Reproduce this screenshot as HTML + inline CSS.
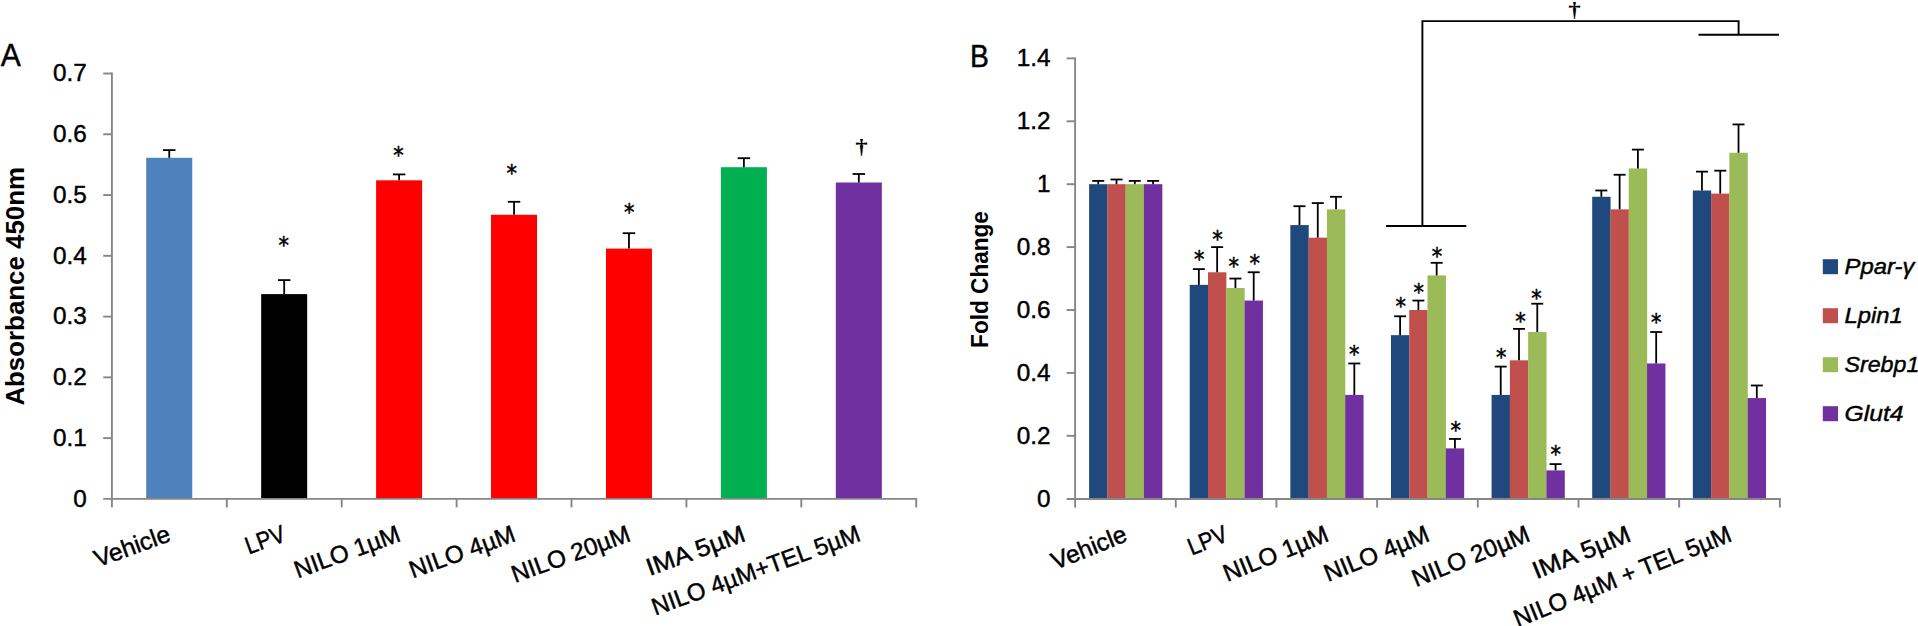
<!DOCTYPE html>
<html lang="en"><head><meta charset="utf-8"><title>Figure</title>
<style>
html,body{margin:0;padding:0;background:#fff;overflow:hidden}
svg{display:block}
text{font-family:"Liberation Sans", sans-serif;fill:#000;stroke:#000;stroke-width:0.45px}
text.b{stroke-width:0}
text.a{font-family:"DejaVu Sans","Liberation Sans",sans-serif;stroke:#000;stroke-width:0.5px}
text.d{font-family:"Liberation Serif","DejaVu Serif",serif;font-weight:bold;stroke-width:0}
</style></head>
<body>
<svg width="1918" height="626" viewBox="0 0 1918 626">
<rect x="0" y="0" width="1918" height="626" fill="#ffffff"/>
<rect x="146.25" y="157.80" width="46.00" height="340.80" fill="#4F81BD"/>
<line x1="169.25" y1="157.80" x2="169.25" y2="150.10" stroke="#000" stroke-width="1.8"/>
<line x1="163.00" y1="150.10" x2="175.50" y2="150.10" stroke="#000" stroke-width="1.8"/>
<rect x="261.18" y="294.10" width="46.00" height="204.50" fill="#000000"/>
<line x1="284.18" y1="294.10" x2="284.18" y2="280.10" stroke="#000" stroke-width="1.8"/>
<line x1="277.93" y1="280.10" x2="290.43" y2="280.10" stroke="#000" stroke-width="1.8"/>
<rect x="376.11" y="180.30" width="46.00" height="318.30" fill="#FF0000"/>
<line x1="399.11" y1="180.30" x2="399.11" y2="174.40" stroke="#000" stroke-width="1.8"/>
<line x1="392.86" y1="174.40" x2="405.36" y2="174.40" stroke="#000" stroke-width="1.8"/>
<rect x="491.04" y="214.80" width="46.00" height="283.80" fill="#FF0000"/>
<line x1="514.04" y1="214.80" x2="514.04" y2="201.80" stroke="#000" stroke-width="1.8"/>
<line x1="507.79" y1="201.80" x2="520.29" y2="201.80" stroke="#000" stroke-width="1.8"/>
<rect x="605.97" y="248.60" width="46.00" height="250.00" fill="#FF0000"/>
<line x1="628.97" y1="248.60" x2="628.97" y2="233.20" stroke="#000" stroke-width="1.8"/>
<line x1="622.72" y1="233.20" x2="635.22" y2="233.20" stroke="#000" stroke-width="1.8"/>
<rect x="720.90" y="167.20" width="46.00" height="331.40" fill="#00B050"/>
<line x1="743.90" y1="167.20" x2="743.90" y2="158.20" stroke="#000" stroke-width="1.8"/>
<line x1="737.65" y1="158.20" x2="750.15" y2="158.20" stroke="#000" stroke-width="1.8"/>
<rect x="835.83" y="182.50" width="46.00" height="316.10" fill="#7030A0"/>
<line x1="858.83" y1="182.50" x2="858.83" y2="174.00" stroke="#000" stroke-width="1.8"/>
<line x1="852.58" y1="174.00" x2="865.08" y2="174.00" stroke="#000" stroke-width="1.8"/>
<line x1="111.90" y1="72.61" x2="111.90" y2="499.80" stroke="#868686" stroke-width="1.9"/>
<line x1="103.20" y1="498.90" x2="917.10" y2="498.90" stroke="#868686" stroke-width="1.9"/>
<text x="86.70" y="506.80" font-size="24.43" text-anchor="end" textLength="13.52" lengthAdjust="spacingAndGlyphs">0</text>
<line x1="103.20" y1="438.13" x2="111.90" y2="438.13" stroke="#868686" stroke-width="1.9"/>
<text x="86.70" y="446.03" font-size="24.43" text-anchor="end" textLength="33.75" lengthAdjust="spacingAndGlyphs">0.1</text>
<line x1="103.20" y1="377.36" x2="111.90" y2="377.36" stroke="#868686" stroke-width="1.9"/>
<text x="86.70" y="385.26" font-size="24.43" text-anchor="end" textLength="33.75" lengthAdjust="spacingAndGlyphs">0.2</text>
<line x1="103.20" y1="316.59" x2="111.90" y2="316.59" stroke="#868686" stroke-width="1.9"/>
<text x="86.70" y="324.49" font-size="24.43" text-anchor="end" textLength="33.75" lengthAdjust="spacingAndGlyphs">0.3</text>
<line x1="103.20" y1="255.82" x2="111.90" y2="255.82" stroke="#868686" stroke-width="1.9"/>
<text x="86.70" y="263.72" font-size="24.43" text-anchor="end" textLength="33.75" lengthAdjust="spacingAndGlyphs">0.4</text>
<line x1="103.20" y1="195.05" x2="111.90" y2="195.05" stroke="#868686" stroke-width="1.9"/>
<text x="86.70" y="202.95" font-size="24.43" text-anchor="end" textLength="33.75" lengthAdjust="spacingAndGlyphs">0.5</text>
<line x1="103.20" y1="134.28" x2="111.90" y2="134.28" stroke="#868686" stroke-width="1.9"/>
<text x="86.70" y="142.18" font-size="24.43" text-anchor="end" textLength="33.75" lengthAdjust="spacingAndGlyphs">0.6</text>
<line x1="103.20" y1="73.51" x2="111.90" y2="73.51" stroke="#868686" stroke-width="1.9"/>
<text x="86.70" y="81.41" font-size="24.43" text-anchor="end" textLength="33.75" lengthAdjust="spacingAndGlyphs">0.7</text>
<line x1="111.90" y1="498.90" x2="111.90" y2="507.40" stroke="#868686" stroke-width="1.9"/>
<line x1="226.80" y1="498.90" x2="226.80" y2="507.40" stroke="#868686" stroke-width="1.9"/>
<line x1="341.70" y1="498.90" x2="341.70" y2="507.40" stroke="#868686" stroke-width="1.9"/>
<line x1="456.60" y1="498.90" x2="456.60" y2="507.40" stroke="#868686" stroke-width="1.9"/>
<line x1="571.50" y1="498.90" x2="571.50" y2="507.40" stroke="#868686" stroke-width="1.9"/>
<line x1="686.40" y1="498.90" x2="686.40" y2="507.40" stroke="#868686" stroke-width="1.9"/>
<line x1="801.30" y1="498.90" x2="801.30" y2="507.40" stroke="#868686" stroke-width="1.9"/>
<line x1="916.20" y1="498.90" x2="916.20" y2="507.40" stroke="#868686" stroke-width="1.9"/>
<text x="0.80" y="66.20" font-size="31.76" textLength="20.06" lengthAdjust="spacingAndGlyphs">A</text>
<text x="0" y="0" transform="translate(24.10,405.60) rotate(-90)" font-size="26.32" class="b" font-weight="bold" textLength="238.58" lengthAdjust="spacingAndGlyphs">Absorbance 450nm</text>
<text x="0" y="0" transform="translate(172.00,540.50) rotate(-20)" font-size="24.43" text-anchor="end" textLength="79.03" lengthAdjust="spacingAndGlyphs">Vehicle</text>
<text x="0" y="0" transform="translate(287.00,540.50) rotate(-20)" font-size="24.43" text-anchor="end" textLength="40.59" lengthAdjust="spacingAndGlyphs">LPV</text>
<text x="0" y="0" transform="translate(402.00,540.50) rotate(-20)" font-size="24.43" text-anchor="end" textLength="110.84" lengthAdjust="spacingAndGlyphs">NILO 1µM</text>
<text x="0" y="0" transform="translate(517.00,540.50) rotate(-20)" font-size="24.43" text-anchor="end" textLength="110.84" lengthAdjust="spacingAndGlyphs">NILO 4µM</text>
<text x="0" y="0" transform="translate(632.00,540.50) rotate(-20)" font-size="24.43" text-anchor="end" textLength="124.56" lengthAdjust="spacingAndGlyphs">NILO 20µM</text>
<text x="0" y="0" transform="translate(747.00,540.50) rotate(-20)" font-size="24.43" text-anchor="end" textLength="103.47" lengthAdjust="spacingAndGlyphs">IMA 5µM</text>
<text x="0" y="0" transform="translate(862.00,540.50) rotate(-20)" font-size="24.43" text-anchor="end" textLength="219.95" lengthAdjust="spacingAndGlyphs">NILO 4µM+TEL 5µM</text>
<text class="a" transform="translate(283.70,253.43) scale(0.94,1)" font-size="22.2" text-anchor="middle">*</text>
<text class="a" transform="translate(398.50,163.43) scale(0.94,1)" font-size="22.2" text-anchor="middle">*</text>
<text class="a" transform="translate(511.60,181.33) scale(0.94,1)" font-size="22.2" text-anchor="middle">*</text>
<text class="a" transform="translate(629.20,219.63) scale(0.94,1)" font-size="22.2" text-anchor="middle">*</text>
<text class="d" transform="translate(861.60,153.53) scale(1.21,1)" font-size="20.60" text-anchor="middle">†</text>
<rect x="1089.10" y="184.20" width="18.38" height="314.50" fill="#1F497D"/>
<rect x="1107.38" y="184.20" width="18.38" height="314.50" fill="#C0504D"/>
<rect x="1125.66" y="184.20" width="18.38" height="314.50" fill="#9BBB59"/>
<rect x="1143.94" y="184.20" width="18.38" height="314.50" fill="#7030A0"/>
<line x1="1098.24" y1="184.20" x2="1098.24" y2="180.90" stroke="#000" stroke-width="1.8"/>
<line x1="1092.24" y1="180.90" x2="1104.24" y2="180.90" stroke="#000" stroke-width="1.8"/>
<line x1="1116.52" y1="184.20" x2="1116.52" y2="179.48" stroke="#000" stroke-width="1.8"/>
<line x1="1110.52" y1="179.48" x2="1122.52" y2="179.48" stroke="#000" stroke-width="1.8"/>
<line x1="1134.80" y1="184.20" x2="1134.80" y2="180.90" stroke="#000" stroke-width="1.8"/>
<line x1="1128.80" y1="180.90" x2="1140.80" y2="180.90" stroke="#000" stroke-width="1.8"/>
<line x1="1153.08" y1="184.20" x2="1153.08" y2="180.90" stroke="#000" stroke-width="1.8"/>
<line x1="1147.08" y1="180.90" x2="1159.08" y2="180.90" stroke="#000" stroke-width="1.8"/>
<rect x="1189.72" y="284.84" width="18.38" height="213.86" fill="#1F497D"/>
<rect x="1208.00" y="272.26" width="18.38" height="226.44" fill="#C0504D"/>
<rect x="1226.28" y="287.99" width="18.38" height="210.71" fill="#9BBB59"/>
<rect x="1244.56" y="300.56" width="18.38" height="198.13" fill="#7030A0"/>
<line x1="1198.86" y1="284.84" x2="1198.86" y2="269.12" stroke="#000" stroke-width="1.8"/>
<line x1="1192.86" y1="269.12" x2="1204.86" y2="269.12" stroke="#000" stroke-width="1.8"/>
<line x1="1217.14" y1="272.26" x2="1217.14" y2="247.10" stroke="#000" stroke-width="1.8"/>
<line x1="1211.14" y1="247.10" x2="1223.14" y2="247.10" stroke="#000" stroke-width="1.8"/>
<line x1="1235.42" y1="287.99" x2="1235.42" y2="278.55" stroke="#000" stroke-width="1.8"/>
<line x1="1229.42" y1="278.55" x2="1241.42" y2="278.55" stroke="#000" stroke-width="1.8"/>
<line x1="1253.70" y1="300.56" x2="1253.70" y2="272.26" stroke="#000" stroke-width="1.8"/>
<line x1="1247.70" y1="272.26" x2="1259.70" y2="272.26" stroke="#000" stroke-width="1.8"/>
<rect x="1290.34" y="225.08" width="18.38" height="273.62" fill="#1F497D"/>
<rect x="1308.62" y="237.67" width="18.38" height="261.03" fill="#C0504D"/>
<rect x="1326.90" y="209.36" width="18.38" height="289.34" fill="#9BBB59"/>
<rect x="1345.18" y="394.91" width="18.38" height="103.79" fill="#7030A0"/>
<line x1="1299.48" y1="225.08" x2="1299.48" y2="206.21" stroke="#000" stroke-width="1.8"/>
<line x1="1293.48" y1="206.21" x2="1305.48" y2="206.21" stroke="#000" stroke-width="1.8"/>
<line x1="1317.76" y1="237.67" x2="1317.76" y2="203.07" stroke="#000" stroke-width="1.8"/>
<line x1="1311.76" y1="203.07" x2="1323.76" y2="203.07" stroke="#000" stroke-width="1.8"/>
<line x1="1336.04" y1="209.36" x2="1336.04" y2="196.78" stroke="#000" stroke-width="1.8"/>
<line x1="1330.04" y1="196.78" x2="1342.04" y2="196.78" stroke="#000" stroke-width="1.8"/>
<line x1="1354.32" y1="394.91" x2="1354.32" y2="363.47" stroke="#000" stroke-width="1.8"/>
<line x1="1348.32" y1="363.47" x2="1360.32" y2="363.47" stroke="#000" stroke-width="1.8"/>
<rect x="1390.96" y="335.16" width="18.38" height="163.54" fill="#1F497D"/>
<rect x="1409.24" y="310.00" width="18.38" height="188.70" fill="#C0504D"/>
<rect x="1427.52" y="275.40" width="18.38" height="223.30" fill="#9BBB59"/>
<rect x="1445.80" y="448.38" width="18.38" height="50.32" fill="#7030A0"/>
<line x1="1400.10" y1="335.16" x2="1400.10" y2="316.29" stroke="#000" stroke-width="1.8"/>
<line x1="1394.10" y1="316.29" x2="1406.10" y2="316.29" stroke="#000" stroke-width="1.8"/>
<line x1="1418.38" y1="310.00" x2="1418.38" y2="300.56" stroke="#000" stroke-width="1.8"/>
<line x1="1412.38" y1="300.56" x2="1424.38" y2="300.56" stroke="#000" stroke-width="1.8"/>
<line x1="1436.66" y1="275.40" x2="1436.66" y2="262.82" stroke="#000" stroke-width="1.8"/>
<line x1="1430.66" y1="262.82" x2="1442.66" y2="262.82" stroke="#000" stroke-width="1.8"/>
<line x1="1454.94" y1="448.38" x2="1454.94" y2="438.94" stroke="#000" stroke-width="1.8"/>
<line x1="1448.94" y1="438.94" x2="1460.94" y2="438.94" stroke="#000" stroke-width="1.8"/>
<rect x="1491.58" y="394.91" width="18.38" height="103.79" fill="#1F497D"/>
<rect x="1509.86" y="360.32" width="18.38" height="138.38" fill="#C0504D"/>
<rect x="1528.14" y="332.01" width="18.38" height="166.69" fill="#9BBB59"/>
<rect x="1546.42" y="470.39" width="18.38" height="28.31" fill="#7030A0"/>
<line x1="1500.72" y1="394.91" x2="1500.72" y2="366.61" stroke="#000" stroke-width="1.8"/>
<line x1="1494.72" y1="366.61" x2="1506.72" y2="366.61" stroke="#000" stroke-width="1.8"/>
<line x1="1519.00" y1="360.32" x2="1519.00" y2="328.87" stroke="#000" stroke-width="1.8"/>
<line x1="1513.00" y1="328.87" x2="1525.00" y2="328.87" stroke="#000" stroke-width="1.8"/>
<line x1="1537.28" y1="332.01" x2="1537.28" y2="303.71" stroke="#000" stroke-width="1.8"/>
<line x1="1531.28" y1="303.71" x2="1543.28" y2="303.71" stroke="#000" stroke-width="1.8"/>
<line x1="1555.56" y1="470.39" x2="1555.56" y2="464.11" stroke="#000" stroke-width="1.8"/>
<line x1="1549.56" y1="464.11" x2="1561.56" y2="464.11" stroke="#000" stroke-width="1.8"/>
<rect x="1592.20" y="196.78" width="18.38" height="301.92" fill="#1F497D"/>
<rect x="1610.48" y="209.36" width="18.38" height="289.34" fill="#C0504D"/>
<rect x="1628.76" y="168.47" width="18.38" height="330.23" fill="#9BBB59"/>
<rect x="1647.04" y="363.47" width="18.38" height="135.23" fill="#7030A0"/>
<line x1="1601.34" y1="196.78" x2="1601.34" y2="190.49" stroke="#000" stroke-width="1.8"/>
<line x1="1595.34" y1="190.49" x2="1607.34" y2="190.49" stroke="#000" stroke-width="1.8"/>
<line x1="1619.62" y1="209.36" x2="1619.62" y2="174.76" stroke="#000" stroke-width="1.8"/>
<line x1="1613.62" y1="174.76" x2="1625.62" y2="174.76" stroke="#000" stroke-width="1.8"/>
<line x1="1637.90" y1="168.47" x2="1637.90" y2="149.60" stroke="#000" stroke-width="1.8"/>
<line x1="1631.90" y1="149.60" x2="1643.90" y2="149.60" stroke="#000" stroke-width="1.8"/>
<line x1="1656.18" y1="363.47" x2="1656.18" y2="332.01" stroke="#000" stroke-width="1.8"/>
<line x1="1650.18" y1="332.01" x2="1662.18" y2="332.01" stroke="#000" stroke-width="1.8"/>
<rect x="1692.82" y="190.49" width="18.38" height="308.21" fill="#1F497D"/>
<rect x="1711.10" y="193.63" width="18.38" height="305.06" fill="#C0504D"/>
<rect x="1729.38" y="152.75" width="18.38" height="345.95" fill="#9BBB59"/>
<rect x="1747.66" y="398.06" width="18.38" height="100.64" fill="#7030A0"/>
<line x1="1701.96" y1="190.49" x2="1701.96" y2="171.62" stroke="#000" stroke-width="1.8"/>
<line x1="1695.96" y1="171.62" x2="1707.96" y2="171.62" stroke="#000" stroke-width="1.8"/>
<line x1="1720.24" y1="193.63" x2="1720.24" y2="170.68" stroke="#000" stroke-width="1.8"/>
<line x1="1714.24" y1="170.68" x2="1726.24" y2="170.68" stroke="#000" stroke-width="1.8"/>
<line x1="1738.52" y1="152.75" x2="1738.52" y2="124.44" stroke="#000" stroke-width="1.8"/>
<line x1="1732.52" y1="124.44" x2="1744.52" y2="124.44" stroke="#000" stroke-width="1.8"/>
<line x1="1756.80" y1="398.06" x2="1756.80" y2="385.48" stroke="#000" stroke-width="1.8"/>
<line x1="1750.80" y1="385.48" x2="1762.80" y2="385.48" stroke="#000" stroke-width="1.8"/>
<line x1="1075.10" y1="57.50" x2="1075.10" y2="499.90" stroke="#868686" stroke-width="1.9"/>
<line x1="1066.60" y1="499.00" x2="1780.76" y2="499.00" stroke="#868686" stroke-width="1.9"/>
<text x="1050.50" y="506.50" font-size="24.43" text-anchor="end" textLength="13.52" lengthAdjust="spacingAndGlyphs">0</text>
<line x1="1066.60" y1="435.80" x2="1075.10" y2="435.80" stroke="#868686" stroke-width="1.9"/>
<text x="1050.50" y="443.60" font-size="24.43" text-anchor="end" textLength="33.75" lengthAdjust="spacingAndGlyphs">0.2</text>
<line x1="1066.60" y1="372.90" x2="1075.10" y2="372.90" stroke="#868686" stroke-width="1.9"/>
<text x="1050.50" y="380.70" font-size="24.43" text-anchor="end" textLength="33.75" lengthAdjust="spacingAndGlyphs">0.4</text>
<line x1="1066.60" y1="310.00" x2="1075.10" y2="310.00" stroke="#868686" stroke-width="1.9"/>
<text x="1050.50" y="317.80" font-size="24.43" text-anchor="end" textLength="33.75" lengthAdjust="spacingAndGlyphs">0.6</text>
<line x1="1066.60" y1="247.10" x2="1075.10" y2="247.10" stroke="#868686" stroke-width="1.9"/>
<text x="1050.50" y="254.90" font-size="24.43" text-anchor="end" textLength="33.75" lengthAdjust="spacingAndGlyphs">0.8</text>
<line x1="1066.60" y1="184.20" x2="1075.10" y2="184.20" stroke="#868686" stroke-width="1.9"/>
<text x="1050.50" y="192.00" font-size="24.43" text-anchor="end" textLength="13.52" lengthAdjust="spacingAndGlyphs">1</text>
<line x1="1066.60" y1="121.30" x2="1075.10" y2="121.30" stroke="#868686" stroke-width="1.9"/>
<text x="1050.50" y="129.10" font-size="24.43" text-anchor="end" textLength="33.75" lengthAdjust="spacingAndGlyphs">1.2</text>
<line x1="1066.60" y1="58.40" x2="1075.10" y2="58.40" stroke="#868686" stroke-width="1.9"/>
<text x="1050.50" y="66.20" font-size="24.43" text-anchor="end" textLength="33.75" lengthAdjust="spacingAndGlyphs">1.4</text>
<line x1="1075.10" y1="499.00" x2="1075.10" y2="507.60" stroke="#868686" stroke-width="1.9"/>
<line x1="1175.78" y1="499.00" x2="1175.78" y2="507.60" stroke="#868686" stroke-width="1.9"/>
<line x1="1276.46" y1="499.00" x2="1276.46" y2="507.60" stroke="#868686" stroke-width="1.9"/>
<line x1="1377.14" y1="499.00" x2="1377.14" y2="507.60" stroke="#868686" stroke-width="1.9"/>
<line x1="1477.82" y1="499.00" x2="1477.82" y2="507.60" stroke="#868686" stroke-width="1.9"/>
<line x1="1578.50" y1="499.00" x2="1578.50" y2="507.60" stroke="#868686" stroke-width="1.9"/>
<line x1="1679.18" y1="499.00" x2="1679.18" y2="507.60" stroke="#868686" stroke-width="1.9"/>
<line x1="1779.86" y1="499.00" x2="1779.86" y2="507.60" stroke="#868686" stroke-width="1.9"/>
<text x="970.00" y="66.60" font-size="31.76" textLength="18.86" lengthAdjust="spacingAndGlyphs">B</text>
<text x="0" y="0" transform="translate(987.90,347.90) rotate(-90)" font-size="24.80" class="b" font-weight="bold" textLength="136.83" lengthAdjust="spacingAndGlyphs">Fold Change</text>
<text x="0" y="0" transform="translate(1128.58,540.50) rotate(-22)" font-size="24.43" text-anchor="end" textLength="79.03" lengthAdjust="spacingAndGlyphs">Vehicle</text>
<text x="0" y="0" transform="translate(1229.33,540.50) rotate(-22)" font-size="24.43" text-anchor="end" textLength="40.59" lengthAdjust="spacingAndGlyphs">LPV</text>
<text x="0" y="0" transform="translate(1330.08,540.50) rotate(-22)" font-size="24.43" text-anchor="end" textLength="110.84" lengthAdjust="spacingAndGlyphs">NILO 1µM</text>
<text x="0" y="0" transform="translate(1430.83,540.50) rotate(-22)" font-size="24.43" text-anchor="end" textLength="110.84" lengthAdjust="spacingAndGlyphs">NILO 4µM</text>
<text x="0" y="0" transform="translate(1531.58,540.50) rotate(-22)" font-size="24.43" text-anchor="end" textLength="124.56" lengthAdjust="spacingAndGlyphs">NILO 20µM</text>
<text x="0" y="0" transform="translate(1632.33,540.50) rotate(-22)" font-size="24.43" text-anchor="end" textLength="103.47" lengthAdjust="spacingAndGlyphs">IMA 5µM</text>
<text x="0" y="0" transform="translate(1733.08,540.50) rotate(-22)" font-size="24.43" text-anchor="end" textLength="232.19" lengthAdjust="spacingAndGlyphs">NILO 4µM + TEL 5µM</text>
<text class="a" transform="translate(1199.10,267.33) scale(0.94,1)" font-size="22.2" text-anchor="middle">*</text>
<text class="a" transform="translate(1217.40,246.83) scale(0.94,1)" font-size="22.2" text-anchor="middle">*</text>
<text class="a" transform="translate(1233.60,273.63) scale(0.94,1)" font-size="22.2" text-anchor="middle">*</text>
<text class="a" transform="translate(1254.70,271.13) scale(0.94,1)" font-size="22.2" text-anchor="middle">*</text>
<text class="a" transform="translate(1354.30,362.23) scale(0.94,1)" font-size="22.2" text-anchor="middle">*</text>
<text class="a" transform="translate(1400.70,314.23) scale(0.94,1)" font-size="22.2" text-anchor="middle">*</text>
<text class="a" transform="translate(1418.80,300.23) scale(0.94,1)" font-size="22.2" text-anchor="middle">*</text>
<text class="a" transform="translate(1436.90,263.93) scale(0.94,1)" font-size="22.2" text-anchor="middle">*</text>
<text class="a" transform="translate(1455.80,437.63) scale(0.94,1)" font-size="22.2" text-anchor="middle">*</text>
<text class="a" transform="translate(1501.20,364.93) scale(0.94,1)" font-size="22.2" text-anchor="middle">*</text>
<text class="a" transform="translate(1520.40,328.93) scale(0.94,1)" font-size="22.2" text-anchor="middle">*</text>
<text class="a" transform="translate(1536.50,305.93) scale(0.94,1)" font-size="22.2" text-anchor="middle">*</text>
<text class="a" transform="translate(1555.80,462.13) scale(0.94,1)" font-size="22.2" text-anchor="middle">*</text>
<text class="a" transform="translate(1656.30,329.73) scale(0.94,1)" font-size="22.2" text-anchor="middle">*</text>
<path d="M1386.1 226H1466.3M1422.4 226V21.15H1738.6V34.75M1698.5 34.75H1779" fill="none" stroke="#000" stroke-width="1.9" stroke-linejoin="miter"/>
<text class="d" transform="translate(1574.60,16.63) scale(1.21,1)" font-size="20.60" text-anchor="middle">†</text>
<rect x="1822.80" y="259.20" width="15.20" height="15.00" fill="#1F497D"/>
<text x="1844.50" y="274.20" font-size="22.97" font-style="italic" textLength="69.84" lengthAdjust="spacingAndGlyphs">Ppar-γ</text>
<rect x="1822.80" y="308.20" width="15.20" height="15.00" fill="#C0504D"/>
<text x="1844.50" y="323.20" font-size="22.97" font-style="italic" textLength="58.25" lengthAdjust="spacingAndGlyphs">Lpin1</text>
<rect x="1822.80" y="357.20" width="15.20" height="15.00" fill="#9BBB59"/>
<text x="1844.50" y="372.20" font-size="22.97" font-style="italic" textLength="74.84" lengthAdjust="spacingAndGlyphs">Srebp1</text>
<rect x="1822.80" y="406.20" width="15.20" height="15.00" fill="#7030A0"/>
<text x="1844.50" y="421.20" font-size="22.97" font-style="italic" textLength="59.09" lengthAdjust="spacingAndGlyphs">Glut4</text>
</svg>
</body></html>
